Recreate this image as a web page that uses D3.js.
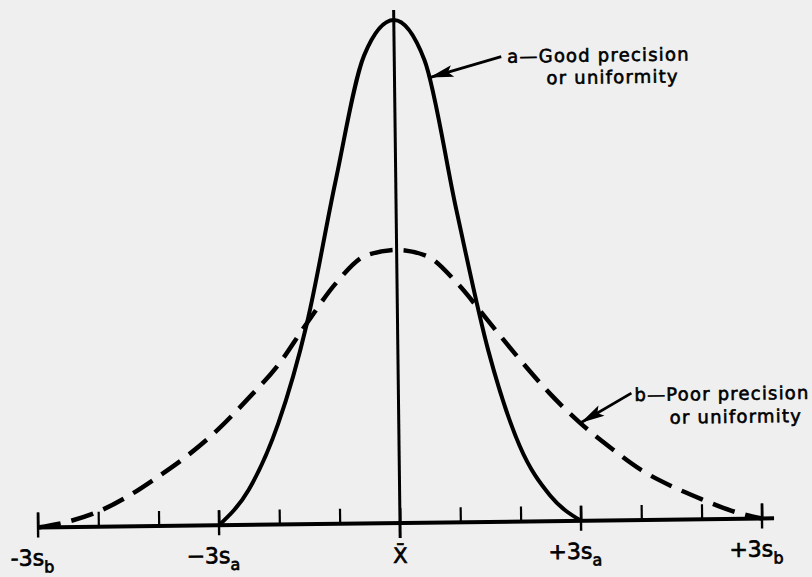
<!DOCTYPE html>
<html><head><meta charset="utf-8">
<script src="https://cdn.jsdelivr.net/npm/d3@7"></script>
<style>html,body{margin:0;padding:0;background:#efefef;} svg{display:block;}</style>
</head><body>
<svg id="chart" width="812" height="577"></svg>
<script>
// ---- data (x in units of s_a, y as fraction of curve-a peak height) ----
const tickValues = [-6,-5,-4,-3,-2,-1,0,1,2,3,4,5,6];
const longTickValues = [-6,-3,3,6];
const labelValues = [-6,-3,0,3,6];
const labelMain = ["-3s","\u22123s","X\u0304","+3s","+3s"];
const labelSub  = ["b","a","","a","b"];

const solidX = [-3,-2.5,-2,-1.5,-1,-0.5,0,0.5,1,1.5,2,2.5,3];
const solidY = [0,0.07,0.20,0.40,0.68,0.93,1.0,0.92,0.62,0.34,0.15,0.05,0];

const dashedX = [-6,-5.5,-5,-4.5,-4,-3.5,-3,-2.5,-2,-1.5,-1,-0.5,0,0.5,1,1.5,2,2.5,3,3.5,4,4.5,5,5.5,6];
const dashedY = [0,0.011,0.03,0.06,0.098,0.14,0.19,0.25,0.315,0.40,0.48,0.533,0.543,0.53,0.475,0.40,0.325,0.255,0.195,0.145,0.10,0.067,0.04,0.016,0];

const annotA = ["a\u2014Good precision","or uniformity"];
const annotB = ["b\u2014Poor precision","or uniformity"];

// ---- drawing ----
const svg = d3.select("#chart");
const x = d3.scaleLinear().domain([-6,6]).range([38,762]);
const y = d3.scaleLinear().domain([0,1]).range([523,20]);

const g = svg.append("g").attr("transform","rotate(-0.71,400,523)");

svg.append("defs").append("marker")
  .attr("id","arrow").attr("viewBox","0 0 20 10").attr("refX",20).attr("refY",5)
  .attr("markerUnits","userSpaceOnUse").attr("markerWidth",26).attr("markerHeight",12)
  .attr("orient","auto")
  .append("path").attr("d","M0,0L20,5L0,10L4,5Z").attr("fill","#000");

// small ticks via axis
const axis = d3.axisTop(x).tickValues(tickValues).tickSize(15).tickSizeOuter(0).tickFormat("");
const ag = g.append("g").attr("transform",`translate(0,${y(0)})`).call(axis);
ag.select(".domain").remove();
ag.selectAll(".tick line").attr("stroke","#000").attr("stroke-width",2.2);

// long ticks crossing the axis
g.selectAll(".longtick").data(longTickValues).enter().append("line")
  .attr("x1",d=>x(d)).attr("x2",d=>x(d))
  .attr("y1",y(0)-15).attr("y2",y(0)+10)
  .attr("stroke","#000").attr("stroke-width",2.4);

// baseline
g.append("line").attr("x1",x(-6)).attr("x2",x(6.2))
  .attr("y1",y(0)).attr("y2",y(0)).attr("stroke","#000").attr("stroke-width",4);

// centre line
g.append("line").attr("x1",x(0)).attr("x2",x(0))
  .attr("y1",y(1.02)).attr("y2",y(0)+15).attr("stroke","#000").attr("stroke-width",3);

const line = d3.line().x(d=>x(d[0])).y(d=>y(d[1])).curve(d3.curveMonotoneX);

g.append("path").datum(solidX.map((v,i)=>[v,solidY[i]]))
  .attr("d",line).attr("fill","none").attr("stroke","#000").attr("stroke-width",4);

g.append("path").datum(dashedX.map((v,i)=>[v,dashedY[i]]))
  .attr("d",line).attr("fill","none").attr("stroke","#000").attr("stroke-width",4.5)
  .attr("stroke-dasharray","23,11");

// axis labels
const lab = g.selectAll(".axlab").data(labelValues).enter().append("text")
  .attr("x",(d,i)=> x(d) - (labelSub[i] ? 6 : 0))
  .attr("y",(d,i)=> i===2 ? 563 : 561)
  .attr("text-anchor","middle")
  .attr("font-family","DejaVu Sans, sans-serif")
  .attr("font-size",(d,i)=> i===2 ? 21 : 22)
  .attr("fill","#000").attr("stroke","#000").attr("stroke-width",0.7);
lab.append("tspan").text((d,i)=>labelMain[i]);
lab.filter((d,i)=>labelSub[i]).append("tspan").attr("dy",7).attr("font-size",16)
  .text(d=>labelSub[labelValues.indexOf(d)]);

// annotations
function annot(lines, x0, y0, x1, y1, tipX, tipY, startX, startY){
  const t = g.append("text").attr("font-family","DejaVu Sans, sans-serif")
    .attr("font-size",18).attr("letter-spacing",1.2).attr("fill","#000")
    .attr("stroke","#000").attr("stroke-width",0.6);
  t.append("tspan").attr("x",x0).attr("y",y0).text(lines[0]);
  t.append("tspan").attr("x",x1).attr("y",y1).text(lines[1]);
  g.append("line").attr("x1",startX).attr("y1",startY).attr("x2",tipX).attr("y2",tipY)
    .attr("stroke","#000").attr("stroke-width",2.8).attr("marker-end","url(#arrow)");
}
annot(annotA, 513, 64, 552, 86, 435, 78, 507, 58);
annot(annotB, 636, 404, 671, 427, 582, 425, 633, 396);
</script>
</body></html>
